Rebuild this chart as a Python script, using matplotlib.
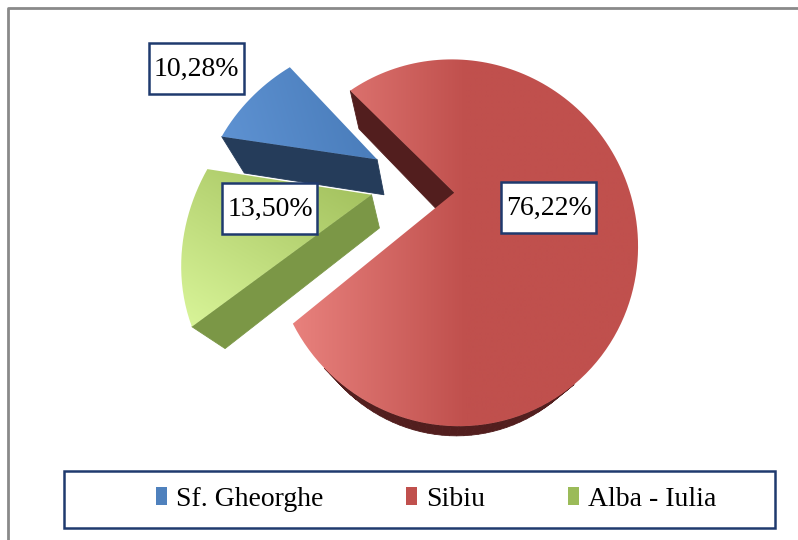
import numpy as np
import matplotlib.pyplot as plt
from matplotlib.patches import Polygon, Rectangle, Patch
from matplotlib.colors import to_rgb

plt.rcParams["font.family"] = "serif"
plt.rcParams["font.serif"] = ["Liberation Serif", "DejaVu Serif"]

# data
names = ["Sf. Gheorghe", "Sibiu", "Alba - Iulia"]
shares = [10.28, 76.22, 13.50]
share_text = ["10,28%", "76,22%", "13,50%"]
explode = [0.44, 0.07, 0.40]
explode_turn = [0.0, 0.0, -13.0]

# colours
legend_col = ["#4F81BD", "#C0504D", "#9BBB59"]
top_dark = ["#4A7DBB", "#C0504D", "#A4C25F"]
top_light = ["#5E92D2", "#E8817D", "#D8F498"]
side_col = ["#253C5A", "#521E1E", "#7B9746"]
grad_dir = [(1.0, -0.3), (1.0, 0.0), (0.6, -1.0)]
grad_span = [1.0, 0.5, 1.0]
label_r = [1.53, 0.53, 0.56]
label_turn = [0.0, -6.0, -7.0]

# simple perspective camera for the 3d pie
TILT = np.radians(34.8)
DIST = 2.09
FX, FY = 367.0, 431.0
CX, CY = 442.0, 192.0
DEPTH = 0.32
START = 171.0
BOX_W, BOX_H = 95, 51

S, C = np.sin(TILT), np.cos(TILT)
cam = np.array([0.0, -DIST * S, DIST * C])


def proj(X, Y, Z):
    d = DIST + Y * S - Z * C
    u = Y * C + Z * S
    return CX + FX * X / d, CY - FY * u / d


def proj_pts(pts):
    pts = np.asarray(pts)
    x, y = proj(pts[:, 0], pts[:, 1], pts[:, 2])
    return np.column_stack([x, y])


fig = plt.figure(figsize=(7.98, 5.40), dpi=100)
ax = fig.add_axes([0, 0, 1, 1])
ax.set_xlim(0, 798)
ax.set_ylim(540, 0)
ax.axis("off")

# outer frame (cut at the right and bottom)
ax.plot([7.5, 7.5, 805], [545, 7.5, 7.5], color="#8A8A8A", lw=2.0,
        solid_capstyle="butt", zorder=1)

fr = np.array(shares) / sum(shares) * 360.0
edges = START - np.concatenate([[0], np.cumsum(fr)])

slices = []
for i in range(len(shares)):
    a_hi, a_lo = edges[i], edges[i + 1]
    mid = np.radians((a_hi + a_lo) / 2)
    ea = mid + np.radians(explode_turn[i])
    ox, oy = explode[i] * np.cos(ea), explode[i] * np.sin(ea)
    cen = np.array([ox + 0.5 * np.cos(mid), oy + 0.5 * np.sin(mid), 0.0])
    slices.append((i, a_hi, a_lo, mid, ox, oy, np.linalg.norm(cam - cen)))

slices.sort(key=lambda s: -s[6])

z = 2
for i, a_hi, a_lo, mid, ox, oy, _ in slices:
    n = max(int(abs(a_hi - a_lo) / 2), 10)
    phi = np.radians(np.linspace(a_lo, a_hi, n))
    rx, ry = ox + np.cos(phi), oy + np.sin(phi)

    faces = []
    # outer rim
    for k in range(n - 1):
        pm = (phi[k] + phi[k + 1]) / 2
        P = np.array([ox + np.cos(pm), oy + np.sin(pm), -DEPTH / 2])
        nrm = np.array([np.cos(pm), np.sin(pm), 0.0])
        if np.dot(cam - P, nrm) > 0:
            quad = [(rx[k], ry[k], 0), (rx[k + 1], ry[k + 1], 0),
                    (rx[k + 1], ry[k + 1], -DEPTH), (rx[k], ry[k], -DEPTH)]
            faces.append((np.linalg.norm(cam - P), quad))
    # cut faces
    for ang, sgn in [(a_hi, 1.0), (a_lo, -1.0)]:
        r = np.radians(ang)
        ex, ey = ox + np.cos(r), oy + np.sin(r)
        nrm = sgn * np.array([-np.sin(r), np.cos(r), 0.0])
        P = np.array([(ox + ex) / 2, (oy + ey) / 2, -DEPTH / 2])
        if np.dot(cam - P, nrm) > 0:
            quad = [(ox, oy, 0), (ex, ey, 0), (ex, ey, -DEPTH), (ox, oy, -DEPTH)]
            faces.append((np.linalg.norm(cam - P), quad))

    faces.sort(key=lambda f: -f[0])
    for _, quad in faces:
        ax.add_patch(Polygon(proj_pts(quad), closed=True, fc=side_col[i],
                             ec=side_col[i], lw=0.6, zorder=z))
    z += 1

    # top face with a soft gradient
    top = [(ox, oy, 0)] + [(x, y, 0) for x, y in zip(rx, ry)]
    top_xy = proj_pts(top)
    poly = Polygon(top_xy, closed=True, fc="none", ec="none", zorder=z)
    ax.add_patch(poly)
    x0, y0 = top_xy.min(axis=0) - 2
    x1, y1 = top_xy.max(axis=0) + 2
    gx, gy = np.meshgrid(np.linspace(x0, x1, int(x1 - x0)),
                         np.linspace(y0, y1, int(y1 - y0)))
    dx, dy = grad_dir[i]
    tv = top_xy[:, 0] * dx + top_xy[:, 1] * dy
    t = (gx * dx + gy * dy - tv.min()) / (tv.max() - tv.min())
    t = np.clip(t / grad_span[i], 0, 1)[..., None]
    lo, hi = np.array(to_rgb(top_light[i])), np.array(to_rgb(top_dark[i]))
    img = lo * (1 - t) + hi * t
    im = ax.imshow(img, extent=(x0, x1, y1, y0), aspect="auto",
                   interpolation="bilinear", zorder=z)
    im.set_clip_path(poly)
    z += 1

ax.set_xlim(0, 798)
ax.set_ylim(540, 0)

# value labels in framed boxes
for i, a_hi, a_lo, mid, ox, oy, _ in slices:
    la = mid + np.radians(label_turn[i])
    lx, ly = proj(ox + label_r[i] * np.cos(la), oy + label_r[i] * np.sin(la), 0.0)
    ax.add_patch(Rectangle((lx - BOX_W / 2, ly - BOX_H / 2), BOX_W, BOX_H,
                           fc="white", ec="#1F3A6E", lw=1.8, zorder=20))
    ax.text(lx, ly + 1, share_text[i], ha="center", va="center",
            fontsize=20, color="black", zorder=21)

# legend
ax.add_patch(Rectangle((63.5, 470.5), 711, 57, fill=False, ec="#1F3A6E",
                       lw=1.8, zorder=20))
handles = [Patch(fc=c, ec="none") for c in legend_col]
ax.legend(handles, names, loc="center", bbox_to_anchor=(436, 499),
          bbox_transform=ax.transData, ncol=3, frameon=False,
          prop={"size": 20},
          handlelength=0.4, handleheight=0.6, handletextpad=0.3,
          columnspacing=3.0)

fig.savefig("out.png", dpi=100)
